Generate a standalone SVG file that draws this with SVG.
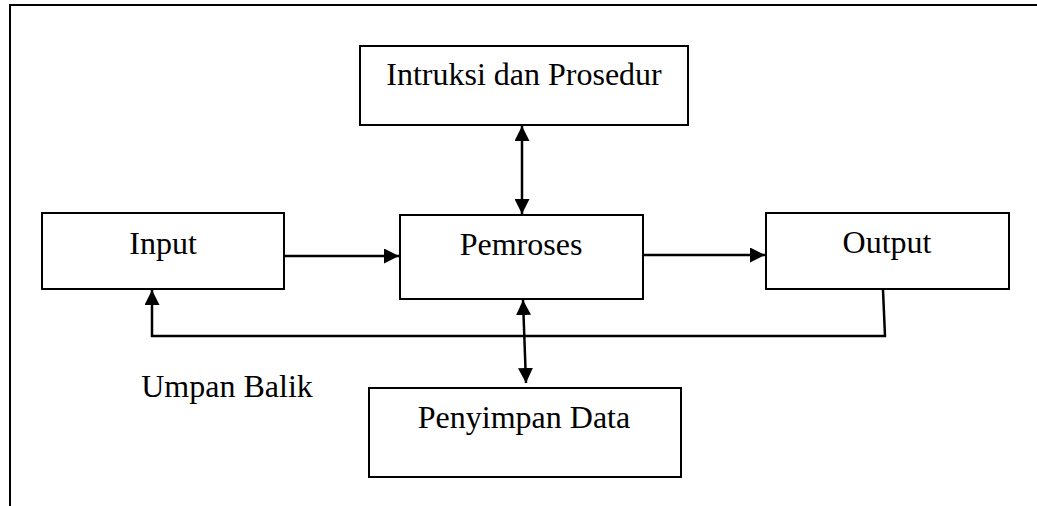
<svg xmlns="http://www.w3.org/2000/svg" width="1037" height="506" viewBox="0 0 1037 506">
  <style>
    .box { fill: #ffffff; stroke: #000000; stroke-width: 2; }
    .lbl { font-family: "Liberation Serif", "Times New Roman", serif; font-size: 32px; fill: #000000; text-anchor: middle; }
    .con { fill: none; stroke: #000000; stroke-width: 2.5; }
    .frame { fill: none; stroke: #000000; stroke-width: 2; }
  </style>
  <defs>
    <marker id="arr" viewBox="0 0 10 10" refX="10" refY="5" markerWidth="6" markerHeight="6" markerUnits="strokeWidth" orient="auto-start-reverse">
      <path d="M0,0 L10,5 L0,10 Z" fill="#000000"/>
    </marker>
  </defs>
  <rect width="1037" height="506" fill="#ffffff"/>
  <g id="frame">
    <path class="frame" d="M10,506 L10,5 L1037,5"/>
  </g>
  <g id="connectors">
    <line class="con" x1="522" y1="126" x2="522" y2="214" marker-start="url(#arr)" marker-end="url(#arr)"/>
    <line class="con" x1="285" y1="256" x2="399" y2="256" marker-end="url(#arr)"/>
    <line class="con" x1="644" y1="255" x2="765" y2="255" marker-end="url(#arr)"/>
    <polyline class="con" points="883,290 885,336 152,336 152,290" marker-end="url(#arr)"/>
    <line class="con" x1="523" y1="300" x2="526" y2="383" marker-start="url(#arr)" marker-end="url(#arr)"/>
  </g>
  <g id="node-intruksi">
    <rect class="box" x="360" y="46" width="328" height="79"/>
    <text class="lbl" x="524" y="85">Intruksi dan Prosedur</text>
  </g>
  <g id="node-input">
    <rect class="box" x="42" y="213" width="242" height="76"/>
    <text class="lbl" x="163" y="254">Input</text>
  </g>
  <g id="node-pemroses">
    <rect class="box" x="400" y="215" width="243" height="84"/>
    <text class="lbl" x="521" y="255">Pemroses</text>
  </g>
  <g id="node-output">
    <rect class="box" x="766" y="213" width="243" height="76"/>
    <text class="lbl" x="887" y="253">Output</text>
  </g>
  <g id="node-penyimpan">
    <rect class="box" x="369" y="388" width="312" height="89"/>
    <text class="lbl" x="524" y="428">Penyimpan Data</text>
  </g>
  <g id="label-umpan">
    <text class="lbl" x="227" y="397">Umpan Balik</text>
  </g>
</svg>
